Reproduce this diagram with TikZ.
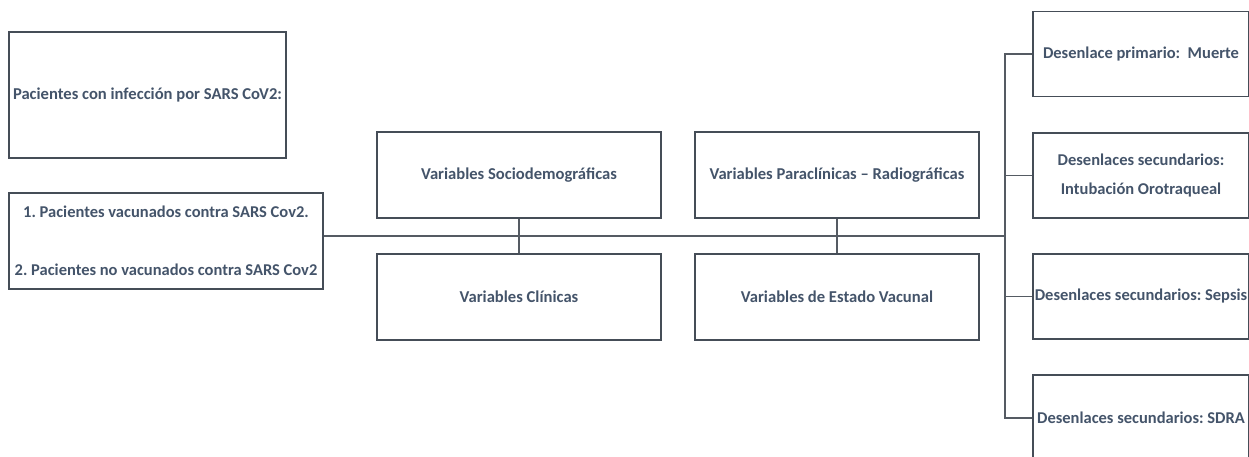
\documentclass[tikz,border=0pt]{standalone}
\usepackage{fontspec}
\setmainfont{Carlito}
\definecolor{txtc}{HTML}{44546A}
\definecolor{bordc}{HTML}{454D57}
\definecolor{linec}{HTML}{555B63}
\begin{document}
\frenchspacing
\begin{tikzpicture}[x=1pt,y=-1pt,
  box/.style={draw=bordc, line width=1.6pt, fill=white, inner sep=0pt,
    text=txtc, align=center, font=\bfseries\fontsize{16.6}{20}\selectfont},
  midbox/.style={box, minimum width=284pt, minimum height=86pt},
  outbox/.style={box, font=\bfseries\fontsize{16.5}{29}\selectfont, minimum width=216pt, minimum height=85pt},
  conn/.style={draw=linec, line width=1.3pt}]
\useasboundingbox (0,0) rectangle (1249,457);
\clip (0,0) rectangle (1249,457);
\node[box, minimum width=277pt, minimum height=126pt] (inf) at (147.5,95) {\raisebox{-5pt}{Pacientes con infección por SARS CoV2:}};
\node[box, font=\bfseries\fontsize{16.5}{58}\selectfont, minimum width=314pt, minimum height=96pt] (grp) at (166,241) {1. Pacientes vacunados contra SARS Cov2.\\2. Pacientes no vacunados contra SARS Cov2};
\node[midbox] (socio) at (519,175) {Variables Sociodemográficas};
\node[midbox] (clin) at (519,297) {Variables Clínicas};
\node[midbox] (para) at (837,175) {Variables Paraclínicas – Radiográficas};
\node[midbox] (vac) at (837,297) {Variables de Estado Vacunal};
\node[outbox] (muerte) at (1141,54) {Desenlace primario:~ Muerte};
\node[outbox] (intub) at (1141,175.5) {Desenlaces secundarios:\\Intubación Orotraqueal};
\node[outbox] (sepsis) at (1141,296.5) {Desenlaces secundarios: Sepsis};
\node[outbox, minimum height=86pt] (sdra) at (1141,418) {Desenlaces secundarios: SDRA};
\coordinate (t) at (1005,236);
\draw[conn] (grp.east |- t) -- (t);
\draw[conn] (socio) -- (clin);
\draw[conn] (para) -- (vac);
\draw[conn] (muerte.west) -- (muerte.west -| t) -- (sdra.west -| t) -- (sdra.west);
\draw[conn] (intub.west) -- (intub.west -| t);
\draw[conn] (sepsis.west) -- (sepsis.west -| t);
\end{tikzpicture}
\end{document}
